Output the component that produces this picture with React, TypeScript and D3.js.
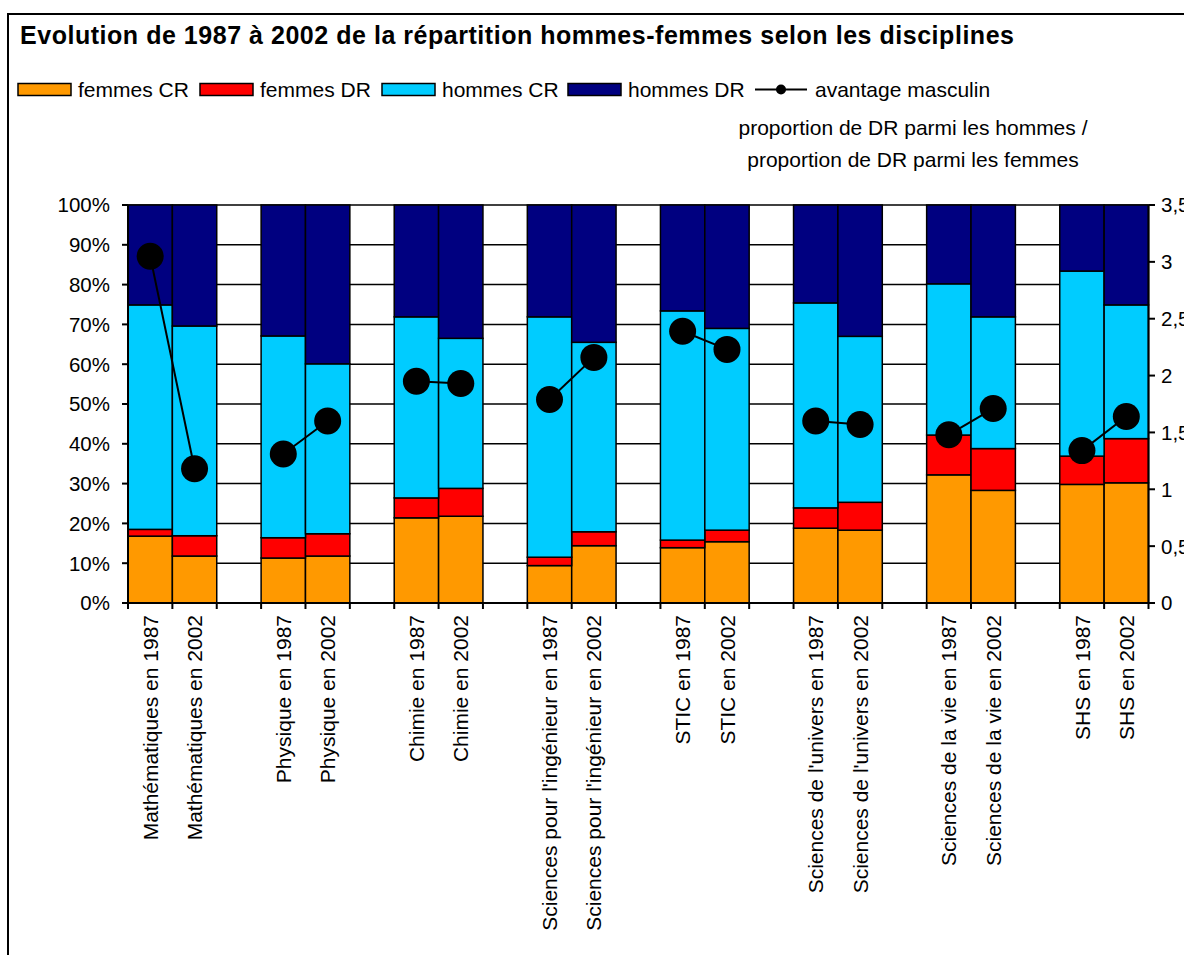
import React from "react"
import * as d3 from "d3"

// one entry per bar, in drawing order (two bars per discipline)
const barLabels = [
  "Mathématiques en 1987", "Mathématiques en 2002",
  "Physique en 1987", "Physique en 2002",
  "Chimie en 1987", "Chimie en 2002",
  "Sciences pour l'ingénieur en 1987", "Sciences pour l'ingénieur en 2002",
  "STIC en 1987", "STIC en 2002",
  "Sciences de l'univers en 1987", "Sciences de l'univers en 2002",
  "Sciences de la vie en 1987", "Sciences de la vie en 2002",
  "SHS en 1987", "SHS en 2002",
]

// shares in %
const femmesCR = [16.8, 11.8, 11.3, 11.8, 21.4, 21.8, 9.4, 14.4, 13.9, 15.4, 18.8, 18.3, 32.2, 28.3, 29.8, 30.2]
const femmesDR = [1.7, 5.1, 5.1, 5.6, 5.0, 7.0, 2.1, 3.5, 1.9, 2.9, 5.1, 7.0, 10.0, 10.5, 7.1, 11.1]
const hommesCR = [56.4, 52.7, 50.7, 42.7, 45.5, 37.7, 60.4, 47.6, 57.6, 50.7, 51.5, 41.7, 38.0, 33.1, 46.5, 33.6]
const hommesDR = [25.1, 30.4, 32.9, 39.9, 28.1, 33.5, 28.1, 34.5, 26.6, 31.0, 24.6, 33.0, 19.8, 28.1, 16.6, 25.1]

// ratio, right axis
const avantage = [3.05, 1.18, 1.31, 1.6, 1.95, 1.93, 1.79, 2.16, 2.39, 2.23, 1.6, 1.57, 1.48, 1.71, 1.34, 1.64]

const leftTicks = [0, 10, 20, 30, 40, 50, 60, 70, 80, 90, 100]
const rightTicks = [0, 0.5, 1, 1.5, 2, 2.5, 3, 3.5]
const rightTickLabels = ["0", "0,5", "1", "1,5", "2", "2,5", "3", "3,5"]

const seriesKeys = ["fCR", "fDR", "hCR", "hDR"]
const seriesNames = ["femmes CR", "femmes DR", "hommes CR", "hommes DR"]
const colors = ["#FF9900", "#FF0000", "#00CCFF", "#000080"]

const FONT = "'Liberation Sans', Arial, Helvetica, sans-serif"

export default function App() {
  const W = 1184
  const H = 955

  // 8 groups of 2 bars plus 7 empty slots between them
  const x = d3.scaleBand<number>().domain(d3.range(23)).range([128, 1148.5]).padding(0)
  const y = d3.scaleLinear().domain([0, 100]).range([603, 205])
  const y2 = d3.scaleLinear().domain([0, 3.5]).range([603, 205])
  const slotOf = (i: number) => Math.floor(i / 2) * 3 + (i % 2)
  const cx = (i: number) => (x(slotOf(i)) as number) + x.bandwidth() / 2

  const rows = barLabels.map((label, i) => ({
    label,
    fCR: femmesCR[i],
    fDR: femmesDR[i],
    hCR: hommesCR[i],
    hDR: hommesDR[i],
  }))
  const stacked = d3.stack<any>().keys(seriesKeys)(rows)

  const line = d3.line<number>().x(i => cx(i)).y(i => y2(avantage[i]))

  const boundaries = d3.range(24).map(k => 128 + k * x.bandwidth())

  // legend layout
  const legendX = [18, 200, 382, 568]

  return (
    <svg
      width={W}
      height={H}
      style={{ position: "absolute", left: 0, top: 0, background: "#fff" }}
      fontFamily={FONT}
    >
      <rect x={0} y={0} width={W} height={H} fill="#fff" />
      <rect x={8} y={14} width={W + 20} height={H + 20} fill="none" stroke="#000" strokeWidth={2} />

      <text x={20} y={44} fontSize={25} fontWeight="bold" textLength={994} lengthAdjust="spacing">
        Evolution de 1987 à 2002 de la répartition hommes-femmes selon les disciplines
      </text>

      {/* legend */}
      {seriesNames.map((name, k) => (
        <g key={name}>
          <rect x={legendX[k]} y={83.5} width={53} height={12} fill={colors[k]} stroke="#000" strokeWidth={1.5} />
          <text x={legendX[k] + 60} y={97} fontSize={21}>{name}</text>
        </g>
      ))}
      <line x1={755} x2={807} y1={89.5} y2={89.5} stroke="#000" strokeWidth={2} />
      <circle cx={781} cy={89.5} r={5} fill="#000" />
      <text x={815} y={97} fontSize={21}>avantage masculin</text>
      <text x={913} y={135} fontSize={21} textAnchor="middle">proportion de DR parmi les hommes /</text>
      <text x={913} y={167} fontSize={21} textAnchor="middle">proportion de DR parmi les femmes</text>

      {/* gridlines */}
      {leftTicks.slice(1).map(t => (
        <line key={t} x1={128} x2={1148.5} y1={y(t)} y2={y(t)} stroke="#000" strokeWidth={1.5} />
      ))}

      {/* stacked bars */}
      {stacked.map((s, k) => (
        <g key={s.key}>
          {s.map((d, i) => (
            <rect
              key={i}
              x={x(slotOf(i))}
              y={y(d[1])}
              width={x.bandwidth()}
              height={y(d[0]) - y(d[1])}
              fill={colors[k]}
              stroke="#000"
              strokeWidth={1.5}
            />
          ))}
        </g>
      ))}

      {/* left axis */}
      <line x1={128} x2={128} y1={205} y2={603} stroke="#000" strokeWidth={2} />
      {leftTicks.map(t => (
        <g key={t}>
          <line x1={122} x2={128} y1={y(t)} y2={y(t)} stroke="#000" strokeWidth={2} />
          <text x={110} y={y(t)} dy="0.36em" fontSize={20.5} textAnchor="end">{t}%</text>
        </g>
      ))}

      {/* right axis */}
      <line x1={1148.5} x2={1148.5} y1={205} y2={603} stroke="#000" strokeWidth={2} />
      {rightTicks.map((t, k) => (
        <g key={t}>
          <line x1={1148.5} x2={1155} y1={y2(t)} y2={y2(t)} stroke="#000" strokeWidth={2} />
          <text x={1161} y={y2(t)} dy="0.36em" fontSize={20.5}>{rightTickLabels[k]}</text>
        </g>
      ))}

      {/* bottom axis */}
      <line x1={128} x2={1148.5} y1={603} y2={603} stroke="#000" strokeWidth={2} />
      {boundaries.map((bx, k) => (
        <line key={k} x1={bx} x2={bx} y1={603} y2={609} stroke="#000" strokeWidth={2} />
      ))}
      {barLabels.map((l, i) => (
        <text
          key={l}
          transform={`translate(${cx(i)},615) rotate(-90)`}
          dy="0.36em"
          fontSize={21}
          textAnchor="end"
        >
          {l}
        </text>
      ))}

      {/* avantage masculin */}
      {d3.range(8).map(g => (
        <path key={g} d={line([2 * g, 2 * g + 1]) as string} fill="none" stroke="#000" strokeWidth={2} />
      ))}
      {avantage.map((v, i) => (
        <circle key={i} cx={cx(i)} cy={y2(v)} r={13.5} fill="#000" />
      ))}
    </svg>
  )
}
